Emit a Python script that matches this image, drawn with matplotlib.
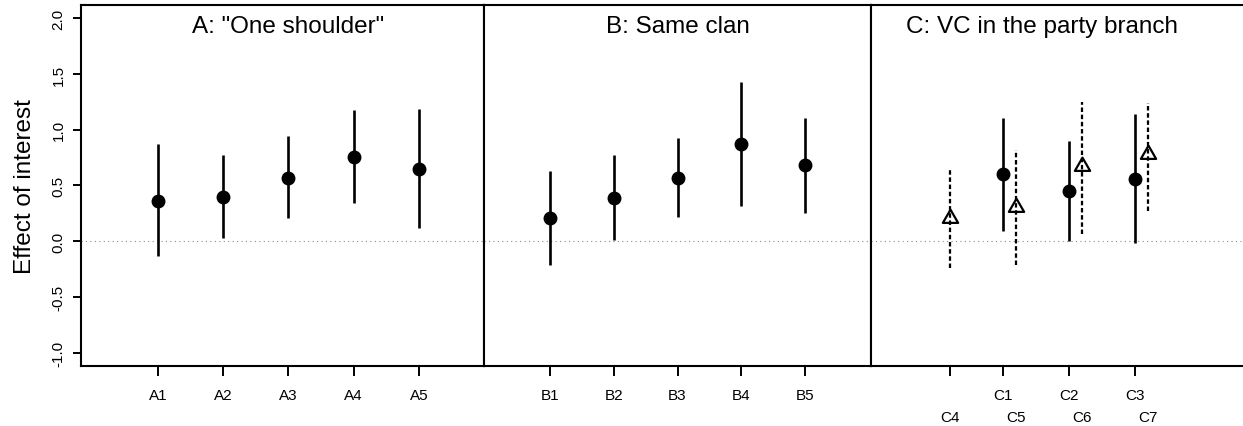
import numpy as np
import matplotlib.pyplot as plt
from matplotlib.path import Path

plt.rcParams['font.family'] = ['Liberation Sans', 'DejaVu Sans']

# Panel A: "One shoulder"
a_labels = ['A1', 'A2', 'A3', 'A4', 'A5']
a_est = [0.36, 0.40, 0.57, 0.76, 0.65]
a_lo = [-0.13, 0.03, 0.21, 0.34, 0.12]
a_hi = [0.87, 0.77, 0.94, 1.18, 1.19]

# Panel B: same clan
b_labels = ['B1', 'B2', 'B3', 'B4', 'B5']
b_est = [0.21, 0.39, 0.57, 0.87, 0.68]
b_lo = [-0.21, 0.01, 0.215, 0.32, 0.25]
b_hi = [0.63, 0.775, 0.925, 1.43, 1.11]

# Panel C: VC in the party branch (solid = C1-C3, dashed = C4-C7)
c_solid_labels = ['C1', 'C2', 'C3']
c_solid_est = [0.60, 0.45, 0.555]
c_solid_lo = [0.09, 0.005, -0.02]
c_solid_hi = [1.105, 0.895, 1.145]

c_dash_labels = ['C4', 'C5', 'C6', 'C7']
c_dash_est = [0.205, 0.31, 0.675, 0.78]
c_dash_lo = [-0.24, -0.215, 0.065, 0.275]
c_dash_hi = [0.64, 0.82, 1.25, 1.24]

titles = ['A: "One shoulder"', 'B: Same clan', 'C: VC in the party branch']

# open triangle centred on its centroid
tri = Path([(0, 1), (-0.866, -0.5), (0.866, -0.5), (0, 1)], closed=True)

W, H = 1243, 427
fig = plt.figure(figsize=(W / 100, H / 100), dpi=100)

bot = 1 - 367 / H
hgt = (367 - 6) / H
axA = fig.add_axes([81 / W, bot, 403 / W, hgt])
axB = fig.add_axes([484 / W, bot, 387 / W, hgt])
axC = fig.add_axes([871 / W, bot, 372 / W, hgt])

ylim = (-1.12, 2.12)
lw = 1.9
dash = (0, (2.0, 1.2))


def bars(ax, x, est, lo, hi, dashed=False):
    if dashed:
        ax.vlines(x, lo, hi, colors='k', lw=lw * 0.85, linestyles=[dash])
        ax.plot(x, est, ls='none', marker=tri, ms=12.7, mfc='none',
                mec='k', mew=1.6, zorder=3)
    else:
        ax.vlines(x, lo, hi, colors='k', lw=lw)
        ax.plot(x, est, ls='none', marker='o', ms=9, color='k', zorder=3)


xa = np.arange(1, 6)
bars(axA, xa, a_est, a_lo, a_hi)
bars(axB, xa, b_est, b_lo, b_hi)

xc_dash = np.arange(1, 5)
xc_solid = xc_dash[1:] - 0.2
bars(axC, xc_solid, c_solid_est, c_solid_lo, c_solid_hi)
bars(axC, xc_dash, c_dash_est, c_dash_lo, c_dash_hi, dashed=True)

axA.set_xlim(-0.18, 6.0)
axB.set_xlim(-0.035, 6.035)
axC.set_xlim(-0.197, 5.44)

for ax, title, tx in zip([axA, axB, axC], titles, [3, 3, 2.39]):
    ax.set_ylim(*ylim)
    ax.axhline(0, color='0.55', lw=0.8, ls=(0, (1, 3)), zorder=0)
    ax.text(tx, 1.935, title, ha='center', va='center', fontsize=17.5)
    for s in ax.spines.values():
        s.set_linewidth(1.5)
    ax.tick_params(axis='x', direction='out', length=7, width=1.4,
                   labelsize=11, pad=9)

axA.set_xticks(xa, a_labels)
axB.set_xticks(xa, b_labels)
axC.set_xticks(np.r_[xc_dash[0], xc_solid], [''] + c_solid_labels)
axC.spines['right'].set_visible(False)

# second row of labels under panel C
for x, lab in zip(xc_dash, c_dash_labels):
    axC.text(x, -0.142, lab, transform=axC.get_xaxis_transform(),
             ha='center', va='center', fontsize=11)

axA.set_yticks([-1.0, -0.5, 0.0, 0.5, 1.0, 1.5, 2.0])
axA.yaxis.set_major_formatter(plt.FormatStrFormatter('%.1f'))
axA.tick_params(axis='y', direction='out', length=6, width=1.4,
                labelsize=11, labelrotation=90, pad=5)
for t in axA.get_yticklabels():
    t.set_va('center')
axA.set_ylabel('Effect of interest', fontsize=17.5, va='center')
axA.yaxis.set_label_coords(-0.139, 0.5)

for ax in (axB, axC):
    ax.tick_params(axis='y', left=False, labelleft=False)

fig.savefig('out.png', dpi=100)
